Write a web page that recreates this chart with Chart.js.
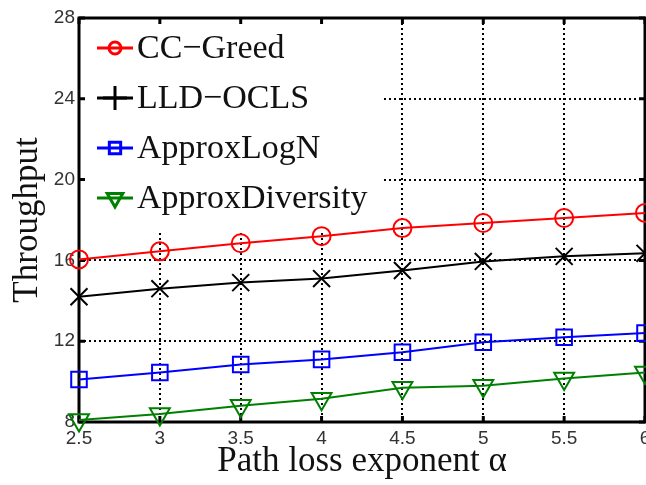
<!DOCTYPE html>
<html>
<head>
<meta charset="utf-8">
<script src="https://cdn.jsdelivr.net/npm/chart.js@4"></script>
<style>
  html, body { margin: 0; padding: 0; background: #fff; overflow: hidden; }
  #chart { display: block; }
</style>
</head>
<body>
<!-- canvas runs a little past the window: the original figure is cropped at the right axis -->
<canvas id="chart" width="659" height="485"></canvas>
<script>
// values
const alphas = [2.5, 3, 3.5, 4, 4.5, 5, 5.5, 6];
const ccGreed = [16.05, 16.45, 16.85, 17.2, 17.6, 17.85, 18.1, 18.35];
const lldOcls = [14.2, 14.6, 14.9, 15.1, 15.5, 15.95, 16.2, 16.35];
const approxLogN = [10.1, 10.45, 10.85, 11.1, 11.45, 11.95, 12.2, 12.4];
const approxDiversity = [8.1, 8.4, 8.8, 9.15, 9.7, 9.8, 10.15, 10.45];
const seriesNames = ['CC\u2212Greed', 'LLD\u2212OCLS', 'ApproxLogN', 'ApproxDiversity'];

function toPoints(vals) {
  return vals.map((v, i) => ({ x: alphas[i], y: v }));
}

const serif = "'Liberation Serif', 'Times New Roman', serif";
const sans = "'Liberation Sans', Arial, sans-serif";

// legend symbol per series (legend shows '+' for LLD-OCLS)
const legendMarks = [
  { pointStyle: 'circle', radius: 6, rotation: 0 },
  { pointStyle: 'cross', radius: 12, rotation: 0 },
  { pointStyle: 'rect', radius: 8, rotation: 0 },
  { pointStyle: 'triangle', radius: 9, rotation: 180 }
];

// matlab-like frame, inward ticks, legend box
const matlabAxes = {
  id: 'matlabAxes',
  beforeDatasetsDraw(chart) {
    const { ctx, chartArea: a, scales } = chart;
    ctx.save();
    // legend background hides grid behind it
    ctx.fillStyle = '#fff';
    ctx.fillRect(a.left + 2, a.top + 2, 382 - a.left - 2, 230 - a.top - 2);
    ctx.strokeStyle = '#000';
    ctx.lineWidth = 3;
    ctx.strokeRect(a.left, a.top, a.right - a.left, a.bottom - a.top);
    ctx.beginPath();
    scales.x.ticks.forEach(t => {
      const px = scales.x.getPixelForValue(t.value);
      ctx.moveTo(px, a.bottom); ctx.lineTo(px, a.bottom - 6);
      ctx.moveTo(px, a.top); ctx.lineTo(px, a.top + 6);
    });
    scales.y.ticks.forEach(t => {
      const py = scales.y.getPixelForValue(t.value);
      ctx.moveTo(a.left, py); ctx.lineTo(a.left + 6, py);
      ctx.moveTo(a.right, py); ctx.lineTo(a.right - 6, py);
    });
    ctx.stroke();
    ctx.restore();
  },
  afterDatasetsDraw(chart) {
    const { ctx } = chart;
    const rows = [48, 98, 148, 198];
    ctx.save();
    chart.data.datasets.forEach((ds, i) => {
      const y = rows[i];
      ctx.strokeStyle = ds.borderColor;
      ctx.lineWidth = 3;
      ctx.beginPath();
      ctx.moveTo(97, y); ctx.lineTo(133, y);
      ctx.stroke();
      ctx.fillStyle = 'rgba(0,0,0,0)';
      const m = legendMarks[i];
      Chart.helpers.drawPoint(ctx, { pointStyle: m.pointStyle, radius: m.radius, rotation: m.rotation, borderWidth: 2.5 }, 115, y);
      ctx.fillStyle = '#111';
      ctx.font = '34px ' + serif;
      ctx.textBaseline = 'middle';
      ctx.textAlign = 'left';
      ctx.fillText(ds.label, 137, y + 1);
    });
    ctx.restore();
  }
};

function series(name, vals, color, style, radius, rotation) {
  return {
    label: name,
    data: toPoints(vals),
    borderColor: color,
    backgroundColor: 'rgba(0,0,0,0)',
    borderWidth: 2,
    pointStyle: style,
    pointRadius: radius,
    pointRotation: rotation,
    pointBorderColor: color,
    pointBackgroundColor: 'rgba(0,0,0,0)',
    pointBorderWidth: 2,
    tension: 0
  };
}

const ctx = document.getElementById('chart').getContext('2d');
new Chart(ctx, {
  type: 'line',
  data: {
    datasets: [
      series(seriesNames[0], ccGreed, '#ff0000', 'circle', 9, 0),
      series(seriesNames[1], lldOcls, '#000000', 'crossRot', 12, 0),
      series(seriesNames[2], approxLogN, '#0000ff', 'rect', 11, 0),
      series(seriesNames[3], approxDiversity, '#008000', 'triangle', 11.5, 180)
    ]
  },
  plugins: [matlabAxes],
  options: {
    responsive: false,
    animation: false,
    clip: false,
    layout: { padding: { top: 18, right: 1, left: 0, bottom: 0 } },
    plugins: {
      legend: { display: false },
      tooltip: { enabled: false }
    },
    scales: {
      x: {
        type: 'linear',
        min: 2.5,
        max: 6,
        afterFit: s => { s.height = 63; },
        ticks: {
          stepSize: 0.5,
          padding: 5,
          color: '#333',
          font: { family: sans, size: 19 },
          maxRotation: 0,
          callback: v => String(v)
        },
        grid: { color: '#000', lineWidth: 2, drawTicks: false },
        border: { display: false, dash: [2, 3] },
        title: {
          display: true,
          text: 'Path loss exponent \u03b1',
          color: '#111',
          font: { family: serif, size: 35 },
          padding: { top: 0, bottom: 2 }
        }
      },
      y: {
        min: 8,
        max: 28,
        afterFit: s => { s.width = 79; },
        ticks: {
          stepSize: 4,
          padding: 4,
          color: '#333',
          font: { family: sans, size: 19 }
        },
        grid: { color: '#000', lineWidth: 2, drawTicks: false },
        border: { display: false, dash: [2, 3] },
        title: {
          display: true,
          text: 'Throughput',
          color: '#111',
          font: { family: serif, size: 35 },
          padding: { top: 7, bottom: 0 }
        }
      }
    }
  }
});
</script>
</body>
</html>
